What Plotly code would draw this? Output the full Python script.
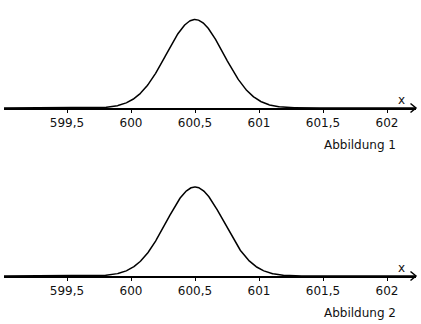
import numpy as np
import plotly.graph_objects as go

# Normal distributions shown in the two figures (mean, standard deviation)
mu_values = [600.5, 600.5]
sigma_values = [0.225, 0.225]
panel_labels = ["Abbildung 1", "Abbildung 2"]

# x-axis ticks
tick_values = [599.5, 600, 600.5, 601, 601.5, 602]
tick_labels = ["599,5", "600", "600,5", "601", "601,5", "602"]

W, H = 421, 324
X_RANGE = [599.0078, 602.2266]
FONT = dict(family="DejaVu Sans", size=12, color="#111111")


def px(x):
    return x / W


def py(y):
    return 1 - y / H


# Pixel rows of the x-axis line and panel tops
axis_rows = [108, 276]
panel_tops = [0, 168]
peak_frac = [0.8194, 0.824]

fig = go.Figure()
xs = np.linspace(X_RANGE[0], X_RANGE[1], 800)

for i in range(2):
    mu, sigma = mu_values[i], sigma_values[i]
    dens = np.exp(-0.5 * ((xs - mu) / sigma) ** 2) / (sigma * np.sqrt(2 * np.pi))
    peak = 1 / (sigma * np.sqrt(2 * np.pi))
    xa = "x" if i == 0 else "x2"
    ya = "y" if i == 0 else "y2"
    fig.add_trace(go.Scatter(x=xs, y=dens, mode="lines",
                             line=dict(color="black", width=1.5),
                             xaxis=xa, yaxis=ya, hoverinfo="skip",
                             showlegend=False))
    suffix = "" if i == 0 else "2"
    fig.layout["xaxis" + suffix] = dict(
        domain=[px(4), px(416)], range=X_RANGE, anchor=ya,
        showline=True, linewidth=2, linecolor="black",
        showgrid=False, zeroline=False,
        ticks="outside", ticklen=3, tickwidth=1, tickcolor="black",
        tickvals=tick_values, ticktext=tick_labels, tickfont=FONT,
        fixedrange=True,
    )
    fig.layout["yaxis" + suffix] = dict(
        domain=[py(axis_rows[i]), py(panel_tops[i])],
        range=[0, peak / peak_frac[i]], anchor=xa,
        visible=False, fixedrange=True,
    )

    # arrowhead at the right end of the axis
    ay = axis_rows[i]
    fig.add_shape(type="path", xref="paper", yref="paper",
                  path=f"M {px(410.5)} {py(ay - 4.5)} L {px(416)} {py(ay)} L {px(410.5)} {py(ay + 4.5)}",
                  line=dict(color="black", width=1.5))
    fig.add_annotation(text="x", xref="paper", yref="paper",
                       x=px(401), y=py(ay - 8), xanchor="center", yanchor="middle",
                       showarrow=False, font=FONT)
    fig.add_annotation(text=panel_labels[i], xref="paper", yref="paper",
                       x=px(397.5), y=py(ay + 37), xanchor="right", yanchor="middle",
                       showarrow=False, font=FONT)

fig.update_layout(width=W, height=H, margin=dict(l=0, r=0, t=0, b=0),
                  paper_bgcolor="white", plot_bgcolor="white")

fig.write_html("out.html", config={"displayModeBar": False})
